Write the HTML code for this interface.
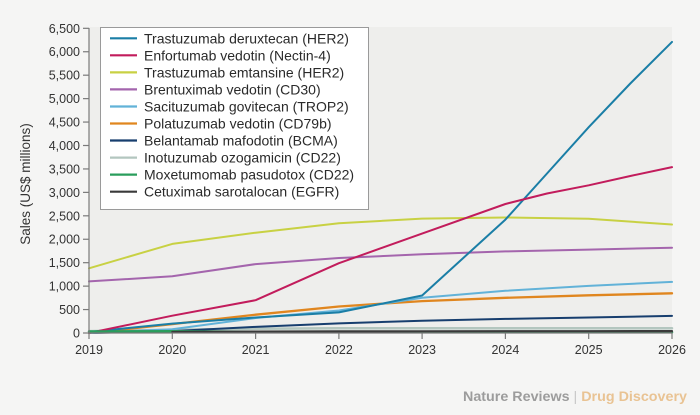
<!DOCTYPE html>
<html>
<head>
<meta charset="utf-8">
<style>
html,body{margin:0;padding:0;background:#f5f5f4;}
svg{display:block;}
text{font-family:"Liberation Sans",sans-serif;}
</style>
</head>
<body>
<svg width="700" height="415" viewBox="0 0 700 415" xmlns="http://www.w3.org/2000/svg">
<rect x="0" y="0" width="700" height="415" fill="#f5f5f4"/>
<!-- plot background -->
<rect x="89" y="27" width="583" height="306" fill="#eeeeec"/>

<!-- series -->
<g fill="none" stroke-width="2" stroke-linejoin="round" stroke-linecap="round">
  <!-- Inotuzumab -->
  <polyline stroke="#b3c6bf" stroke-width="2.5" points="89,331.1 172.3,329.7 255.6,328.8 338.9,328.3 422.1,328.3 505.4,328.3 588.7,328.3 672,328.3"/>
  <!-- Belantamab -->
  <polyline stroke="#173e6e" points="89,333 172.3,331.1 255.6,326.9 338.9,323.4 422.1,320.7 505.4,318.9 588.7,317.5 672,315.9"/>
  <!-- Polatuzumab -->
  <polyline stroke="#e0861f" stroke-width="2.3" points="89,333 172.3,324.1 255.6,314.7 338.9,306.5 422.1,301.1 505.4,297.8 588.7,295.3 672,293.3"/>
  <!-- Sacituzumab -->
  <polyline stroke="#62b2d8" points="89,333 172.3,329.3 255.6,318 338.9,310.5 422.1,297.8 505.4,290.8 588.7,285.9 672,281.9"/>
  <!-- Brentuximab -->
  <polyline stroke="#a465ad" points="89,281.4 172.3,276.3 255.6,264.1 338.9,258 422.1,254.3 505.4,251.4 588.7,249.6 672,247.7"/>
  <!-- Emtansine -->
  <polyline stroke="#c8d143" points="89,268.3 172.3,243.9 255.6,232.7 338.9,223.3 422.1,218.6 505.4,217.5 588.7,218.8 672,224.5"/>
  <!-- Deruxtecan -->
  <polyline stroke="#1a7ea6" points="89,332 172.3,323.6 255.6,317.5 338.9,312.4 422.1,295.5 505.4,219.6 547,173.5 588.7,127.2 630.3,83.5 672,41.9"/>
  <!-- Enfortumab -->
  <polyline stroke="#c21c5c" points="89,333 172.3,315.7 255.6,300.2 338.9,263.2 422.1,233.6 505.4,204 547,193.5 588.7,185.3 630.3,176 672,167.1"/>
  <!-- Moxetumomab -->
  <polyline stroke="#2a9d5c" stroke-width="2.5" points="89,331.5 172.3,331.3 255.6,332 338.9,332.2 672,332.2"/>
  <!-- Cetuximab -->
  <polyline stroke="#3a3a3a" stroke-width="2.2" points="172.3,332 255.6,331.6 338.9,331.4 422.1,331.3 505.4,331.2 588.7,331.2 672,331.1"/>
</g>

<!-- axes -->
<g stroke="#7a7a7a" stroke-width="1.2" fill="none">
  <line x1="89" y1="28" x2="89" y2="333.5"/>
  <line x1="88.5" y1="333" x2="672.5" y2="333"/>
  <!-- y ticks -->
  <line x1="83" y1="333" x2="89" y2="333"/>
  <line x1="83" y1="309.56" x2="89" y2="309.56"/>
  <line x1="83" y1="286.13" x2="89" y2="286.13"/>
  <line x1="83" y1="262.69" x2="89" y2="262.69"/>
  <line x1="83" y1="239.25" x2="89" y2="239.25"/>
  <line x1="83" y1="215.81" x2="89" y2="215.81"/>
  <line x1="83" y1="192.38" x2="89" y2="192.38"/>
  <line x1="83" y1="168.94" x2="89" y2="168.94"/>
  <line x1="83" y1="145.5" x2="89" y2="145.5"/>
  <line x1="83" y1="122.06" x2="89" y2="122.06"/>
  <line x1="83" y1="98.63" x2="89" y2="98.63"/>
  <line x1="83" y1="75.19" x2="89" y2="75.19"/>
  <line x1="83" y1="51.75" x2="89" y2="51.75"/>
  <line x1="83" y1="28.31" x2="89" y2="28.31"/>
  <!-- x ticks -->
  <line x1="89" y1="333" x2="89" y2="339"/>
  <line x1="172.3" y1="333" x2="172.3" y2="339"/>
  <line x1="255.6" y1="333" x2="255.6" y2="339"/>
  <line x1="338.9" y1="333" x2="338.9" y2="339"/>
  <line x1="422.1" y1="333" x2="422.1" y2="339"/>
  <line x1="505.4" y1="333" x2="505.4" y2="339"/>
  <line x1="588.7" y1="333" x2="588.7" y2="339"/>
  <line x1="672" y1="333" x2="672" y2="339"/>
</g>

<!-- y tick labels -->
<g font-size="12.5" fill="#333" text-anchor="end">
  <text x="80" y="337.5">0</text>
  <text x="80" y="314">500</text>
  <text x="80" y="290.6">1,000</text>
  <text x="80" y="267.2">1,500</text>
  <text x="80" y="243.7">2,000</text>
  <text x="80" y="220.3">2,500</text>
  <text x="80" y="196.9">3,000</text>
  <text x="80" y="173.4">3,500</text>
  <text x="80" y="150">4,000</text>
  <text x="80" y="126.5">4,500</text>
  <text x="80" y="103.1">5,000</text>
  <text x="80" y="79.7">5,500</text>
  <text x="80" y="56.2">6,000</text>
  <text x="80" y="32.8">6,500</text>
</g>

<!-- x tick labels -->
<g font-size="12.5" fill="#333" text-anchor="middle">
  <text x="89" y="354">2019</text>
  <text x="172.3" y="354">2020</text>
  <text x="255.6" y="354">2021</text>
  <text x="338.9" y="354">2022</text>
  <text x="422.1" y="354">2023</text>
  <text x="505.4" y="354">2024</text>
  <text x="588.7" y="354">2025</text>
  <text x="672" y="354">2026</text>
</g>

<!-- y axis title -->
<text x="0" y="0" font-size="13.5" fill="#333" text-anchor="middle" transform="translate(30,184) rotate(-90)">Sales (US$ millions)</text>

<!-- legend -->
<rect x="100.5" y="27.5" width="268" height="182" fill="#ffffff" stroke="#9a9a9a" stroke-width="1"/>
<g stroke-width="2.2">
  <line x1="110" y1="38.3" x2="137" y2="38.3" stroke="#1a7ea6"/>
  <line x1="110" y1="55.3" x2="137" y2="55.3" stroke="#c21c5c"/>
  <line x1="110" y1="72.4" x2="137" y2="72.4" stroke="#c8d143"/>
  <line x1="110" y1="89.4" x2="137" y2="89.4" stroke="#a465ad"/>
  <line x1="110" y1="106.5" x2="137" y2="106.5" stroke="#62b2d8"/>
  <line x1="110" y1="123.5" x2="137" y2="123.5" stroke="#e0861f"/>
  <line x1="110" y1="140.5" x2="137" y2="140.5" stroke="#173e6e"/>
  <line x1="110" y1="157.6" x2="137" y2="157.6" stroke="#b3c6bf"/>
  <line x1="110" y1="174.6" x2="137" y2="174.6" stroke="#2a9d5c"/>
  <line x1="110" y1="191.7" x2="137" y2="191.7" stroke="#3a3a3a"/>
</g>
<g font-size="14" fill="#2a2a2a">
  <text x="144" y="43.3">Trastuzumab deruxtecan (HER2)</text>
  <text x="144" y="60.3">Enfortumab vedotin (Nectin-4)</text>
  <text x="144" y="77.4">Trastuzumab emtansine (HER2)</text>
  <text x="144" y="94.4">Brentuximab vedotin (CD30)</text>
  <text x="144" y="111.5">Sacituzumab govitecan (TROP2)</text>
  <text x="144" y="128.5">Polatuzumab vedotin (CD79b)</text>
  <text x="144" y="145.5">Belantamab mafodotin (BCMA)</text>
  <text x="144" y="162.6">Inotuzumab ozogamicin (CD22)</text>
  <text x="144" y="179.6">Moxetumomab pasudotox (CD22)</text>
  <text x="144" y="196.7">Cetuximab sarotalocan (EGFR)</text>
</g>

<!-- footer -->
<text x="463" y="401" font-size="13.5" font-weight="bold" textLength="224" lengthAdjust="spacingAndGlyphs"><tspan fill="#9c9c9c">Nature Reviews </tspan><tspan fill="#c8c8c8" font-weight="normal">|</tspan><tspan fill="#e9c393"> Drug Discovery</tspan></text>
</svg>
</body>
</html>
